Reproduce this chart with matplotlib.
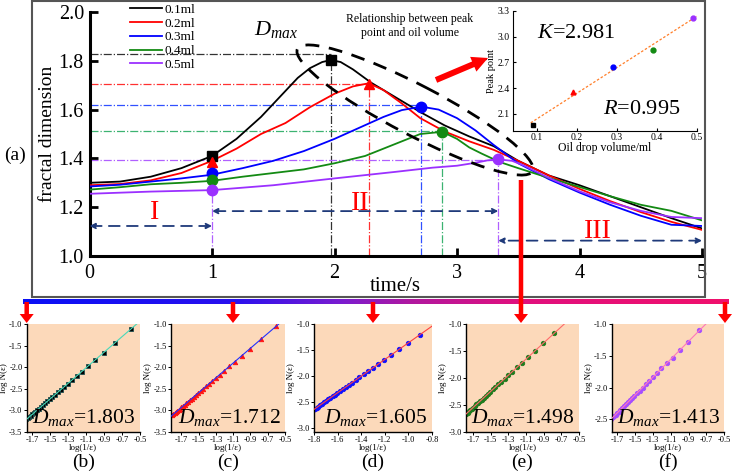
import numpy as np
import matplotlib
matplotlib.use('Agg')
import matplotlib.pyplot as plt
from matplotlib.patches import Ellipse, FancyArrow, Rectangle
from matplotlib.colors import LinearSegmentedColormap

plt.rcParams['font.family'] = ['Liberation Serif', 'DejaVu Serif']
plt.rcParams['mathtext.fontset'] = 'custom'
plt.rcParams['mathtext.rm'] = 'Liberation Serif'
plt.rcParams['mathtext.it'] = 'Liberation Serif:italic'

# ---------------- data: main panel (a) ----------------
labels = ['0.1ml', '0.2ml', '0.3ml', '0.4ml', '0.5ml']
colors = ['black', '#FF0000', '#0000FF', '#138A13', '#9B30FF']
ref_colors = ['#333333', '#FF3030', '#3050FF', '#3CB371', '#B060FF']
markers = ['s', '^', 'o', 'o', 'o']

t_01 = [0, 0.25, 0.5, 0.75, 1.0, 1.2, 1.4, 1.55, 1.7, 1.8, 1.9, 1.97, 2.05, 2.15, 2.3, 2.5, 2.7, 2.9, 3.1, 3.3, 3.5, 3.75, 4.0, 4.25, 4.5, 4.75, 5.0]
d_01 = [1.30, 1.305, 1.325, 1.36, 1.41, 1.48, 1.57, 1.65, 1.73, 1.77, 1.795, 1.803, 1.795, 1.765, 1.71, 1.65, 1.59, 1.535, 1.49, 1.45, 1.39, 1.33, 1.29, 1.245, 1.20, 1.155, 1.113]

t_02 = [0, 0.25, 0.5, 0.75, 1.0, 1.2, 1.4, 1.6, 1.8, 2.0, 2.15, 2.28, 2.4, 2.55, 2.7, 2.9, 3.1, 3.3, 3.5, 3.75, 4.0, 4.25, 4.5, 4.75, 5.0]
d_02 = [1.29, 1.295, 1.31, 1.34, 1.39, 1.44, 1.50, 1.545, 1.61, 1.665, 1.695, 1.708, 1.68, 1.625, 1.565, 1.51, 1.47, 1.435, 1.39, 1.33, 1.275, 1.225, 1.18, 1.14, 1.107]

t_03 = [0, 0.25, 0.5, 0.75, 1.0, 1.25, 1.5, 1.75, 2.0, 2.2, 2.4, 2.55, 2.71, 2.85, 3.0, 3.15, 3.3, 3.5, 3.75, 4.0, 4.25, 4.5, 4.75, 5.0]
d_03 = [1.285, 1.292, 1.305, 1.318, 1.333, 1.36, 1.39, 1.43, 1.48, 1.525, 1.57, 1.598, 1.612, 1.60, 1.565, 1.515, 1.455, 1.38, 1.315, 1.26, 1.21, 1.165, 1.128, 1.123]

t_04 = [0, 0.25, 0.5, 0.75, 1.0, 1.25, 1.5, 1.75, 2.0, 2.25, 2.5, 2.7, 2.88, 3.0, 3.1, 3.2, 3.35, 3.5, 3.75, 4.0, 4.25, 4.5, 4.75, 5.0]
d_04 = [1.272, 1.282, 1.294, 1.30, 1.308, 1.325, 1.34, 1.355, 1.38, 1.41, 1.46, 1.50, 1.509, 1.48, 1.445, 1.42, 1.385, 1.36, 1.32, 1.283, 1.245, 1.21, 1.185, 1.146]

t_05 = [0, 0.5, 1.0, 1.5, 2.0, 2.5, 2.8, 3.0, 3.15, 3.25, 3.337, 3.45, 3.55, 3.75, 4.0, 4.25, 4.5, 4.75, 5.0]
d_05 = [1.255, 1.264, 1.27, 1.29, 1.318, 1.345, 1.362, 1.37, 1.382, 1.392, 1.396, 1.39, 1.37, 1.32, 1.265, 1.22, 1.185, 1.16, 1.155]

times = [t_01, t_02, t_03, t_04, t_05]
dims = [d_01, d_02, d_03, d_04, d_05]

start_t = 1.0
start_d = [1.41, 1.386, 1.341, 1.311, 1.27]
peak_t = [1.97, 2.28, 2.71, 2.88, 3.337]
peak_d = [1.803, 1.705, 1.612, 1.509, 1.396]
ref_d = [1.827, 1.705, 1.62, 1.513, 1.393]

# stage boundaries
stage_bounds = [0.0, 1.0, 3.337, 5.0]

# ---------------- data: inset ----------------
oil_volume = [0.09, 0.19, 0.29, 0.39, 0.49]
peak_point = [1.975, 2.353, 2.648, 2.85, 3.222]

# ---------------- data: panels (b)-(f) ----------------
b_x = [-0.602, -0.778, -0.903, -1.000, -1.079, -1.146, -1.204, -1.255, -1.301, -1.342, -1.380, -1.415, -1.447, -1.477,
       -1.505, -1.531, -1.556, -1.580, -1.602, -1.623, -1.643, -1.663, -1.681, -1.699, -1.716, -1.732, -1.748, -1.763]
b_y = [-1.12, -1.43, -1.66, -1.83, -1.98, -2.10, -2.20, -2.29, -2.38, -2.45, -2.52, -2.58, -2.64, -2.69,
       -2.74, -2.79, -2.84, -2.88, -2.92, -2.96, -2.99, -3.03, -3.06, -3.09, -3.12, -3.15, -3.18, -3.21]
c_x = [-0.602, -0.778, -0.903, -1.000, -1.079, -1.146, -1.204, -1.255, -1.301, -1.342, -1.380, -1.415, -1.447, -1.477,
       -1.505, -1.531, -1.556, -1.580, -1.602, -1.623, -1.643, -1.663, -1.681, -1.699, -1.716, -1.732, -1.748, -1.763,
       -1.778, -1.792, -1.806]
c_y = [-1.05, -1.35, -1.57, -1.73, -1.87, -1.98, -2.08, -2.17, -2.25, -2.32, -2.38, -2.44, -2.50, -2.55,
       -2.60, -2.64, -2.68, -2.73, -2.76, -2.80, -2.83, -2.87, -2.90, -2.93, -2.96, -2.99, -3.01, -3.04,
       -3.06, -3.09, -3.11]
d_x = [-0.903, -1.000, -1.079, -1.146, -1.204, -1.255, -1.301, -1.342, -1.380, -1.415, -1.447, -1.477, -1.505, -1.531,
       -1.556, -1.580, -1.602, -1.623, -1.643, -1.663, -1.681, -1.699, -1.716, -1.732, -1.748, -1.763, -1.778, -1.792, -1.806]
d_y = [-1.21, -1.36, -1.49, -1.60, -1.69, -1.77, -1.84, -1.91, -1.97, -2.03, -2.08, -2.13, -2.17, -2.21,
       -2.25, -2.29, -2.33, -2.36, -2.39, -2.43, -2.45, -2.48, -2.51, -2.54, -2.56, -2.59, -2.61, -2.63, -2.66]
e_x = [-0.778, -0.903, -1.000, -1.079, -1.146, -1.204, -1.255, -1.301, -1.342, -1.380, -1.415, -1.447, -1.477, -1.505,
       -1.531, -1.556, -1.580, -1.602, -1.623, -1.643, -1.663, -1.681, -1.699, -1.716, -1.732, -1.748, -1.763, -1.778]
e_y = [-1.17, -1.35, -1.50, -1.62, -1.72, -1.80, -1.88, -1.95, -2.01, -2.07, -2.12, -2.17, -2.21, -2.25,
       -2.29, -2.33, -2.37, -2.40, -2.43, -2.46, -2.49, -2.52, -2.55, -2.57, -2.60, -2.62, -2.64, -2.66]
f_x = e_x
f_y = [-1.10, -1.28, -1.41, -1.53, -1.62, -1.70, -1.77, -1.84, -1.90, -1.95, -2.00, -2.05, -2.09, -2.13,
       -2.16, -2.20, -2.23, -2.26, -2.29, -2.32, -2.35, -2.38, -2.40, -2.43, -2.45, -2.47, -2.49, -2.51]
dmax_values = ['1.803', '1.712', '1.605', '1.498', '1.413']
panel_names = ['(b)', '(c)', '(d)', '(e)', '(f)']

W, H = 732, 473
fig = plt.figure(figsize=(W / 100, H / 100), dpi=100)


def px_rect(l, t, r, b):
    return [l / W, (H - b) / H, (r - l) / W, (b - t) / H]


# ================= main axes =================
ax = fig.add_axes(px_rect(89.5, 12, 702, 256))
ax.set_xlim(0, 5)
ax.set_ylim(1.0, 2.0)

for i in range(5):
    ax.plot([0, peak_t[i]], [ref_d[i], ref_d[i]], ls='-.', lw=0.9, color=ref_colors[i], zorder=1)
    ax.plot([peak_t[i], peak_t[i]], [1.0, peak_d[i]], ls='-.', lw=0.9, color=ref_colors[i], zorder=1)
ax.plot([start_t, start_t], [1.0, start_d[4]], ls='-.', lw=0.9, color=ref_colors[4], zorder=1)

lines = []
for i in range(5):
    ln, = ax.plot(times[i], dims[i], color=colors[i], lw=1.3, label=labels[i], zorder=3)
    lines.append(ln)
    ax.plot([start_t], [start_d[i]], marker=markers[i], ms=7.5, color=colors[i], ls='none', zorder=4)
    ax.plot([peak_t[i]], [peak_d[i]], marker=markers[i], ms=7.5, color=colors[i], ls='none', zorder=4)

leg = ax.legend(handles=lines, loc='upper left', bbox_to_anchor=(0.066, 1.035), frameon=False,
                fontsize=9.5, handlelength=2.45, handletextpad=0.15, labelspacing=0.12,
                borderpad=0, borderaxespad=0)

navy = '#1F3A7A'
arrow_y = [1.123, 1.184, 1.063]
for k in range(3):
    ax.annotate('', xy=(stage_bounds[k], arrow_y[k]), xytext=(stage_bounds[k + 1], arrow_y[k]),
                arrowprops=dict(arrowstyle='<|-|>', color=navy, lw=1.3, ls=(0, (6, 4)),
                                mutation_scale=8, shrinkA=0, shrinkB=0))
ax.text(0.535, 1.178, 'I', color='red', fontsize=20, ha='center', va='center')
ax.text(2.21, 1.217, 'II', color='red', fontsize=20, ha='center', va='center')
ax.text(4.15, 1.10, 'III', color='red', fontsize=20, ha='center', va='center')

for s in ['top', 'right']:
    ax.spines[s].set_visible(False)
for s in ['left', 'bottom']:
    ax.spines[s].set_linewidth(2.2)
ax.set_xticks(range(6))
ax.set_yticks(np.arange(1.0, 2.01, 0.2))
ax.set_yticklabels(['%.1f' % v for v in np.arange(1.0, 2.01, 0.2)])
ax.tick_params(direction='in', length=6, width=2, labelsize=14.5, pad=4)
ax.tick_params(axis='x', pad=6)
ax.set_xlabel('time/s', fontsize=15)
ax.xaxis.set_label_coords(0.5, -0.127)
ax.xaxis.label.set_va('center')
ax.set_ylabel('fractal dimension', fontsize=14)
ax.yaxis.set_label_coords(-0.069, 0.5)
ax.yaxis.label.set_va('center')

# ================= inset =================
ins = fig.add_axes(px_rect(512.7, 11, 696.7, 130.7))
ins.set_xlim(0.04, 0.5)
ins.set_ylim(1.905, 3.3)
fit = np.polyfit(oil_volume, peak_point, 1)
fx = np.array([0.085, 0.5])
ins.plot(fx, np.polyval(fit, fx), ls=(0, (2, 1.5)), color='#FF7F2A', lw=0.9, zorder=2)
for i in range(5):
    ins.plot([oil_volume[i]], [peak_point[i]], marker=markers[i], ms=3.5, color=colors[i], ls='none', zorder=3)
for s in ['top', 'right']:
    ins.spines[s].set_visible(False)
for s in ['left', 'bottom']:
    ins.spines[s].set_linewidth(0.8)
ins.set_xticks([0.1, 0.2, 0.3, 0.4, 0.5])
ins.set_yticks([2.1, 2.4, 2.7, 3.0, 3.3])
ins.tick_params(direction='in', length=2.5, width=0.8, labelsize=7, pad=2)
ins.set_xlabel('Oil drop volume/ml', fontsize=8.5, labelpad=0)
ins.set_ylabel('Peak point', fontsize=7.5, labelpad=1)

# ================= panels (b)-(f) =================
panel_rects = [(26.7, 324, 140, 432), (171, 324, 285, 432), (314, 324, 432, 432),
               (466, 324, 579, 432), (611.7, 324, 724.3, 432)]
panel_x = [b_x, c_x, d_x, e_x, f_x]
panel_y = [b_y, c_y, d_y, e_y, f_y]
panel_xlim = [(-1.76, -0.5), (-1.82, -0.5), (-1.8, -0.8), (-1.78, -0.5), (-1.76, -0.5)]
panel_ylim = [(-3.5, -1.0), (-3.5, -1.0), (-3.08, -1.0), (-3.0, -1.0), (-2.7, -1.0)]
panel_xticks = [np.arange(-1.7, -0.49, 0.2)] * 2 + [np.arange(-1.8, -0.79, 0.2)] + [np.arange(-1.7, -0.49, 0.2)] * 2
panel_yticks = [np.arange(-3.5, -0.99, 0.5), np.arange(-3.5, -0.99, 0.5), np.arange(-3.0, -0.99, 0.5),
                np.arange(-3.0, -0.99, 0.5), np.arange(-2.5, -0.99, 0.5)]
pt_marker = ['s', '^', 'o', 'o', 'o']
pt_color = ['black', '#FF1010', '#1010FF', '#1E7B1E', '#A64DFF']
pt_edge = ['#1F4F4F', '#FF1010', '#1010FF', '#1E7B1E', '#A64DFF']
fit_color = ['#48D8B8', '#2030FF', '#FF4040', '#FF6A6A', '#FF77BB']
peach = '#FCD9BA'

for k in range(5):
    l, t, r, b = panel_rects[k]
    pa = fig.add_axes(px_rect(l, t, r, b))
    pa.set_facecolor(peach)
    pa.set_xlim(*panel_xlim[k])
    pa.set_ylim(*panel_ylim[k])
    pa.plot(panel_x[k], panel_y[k], marker=pt_marker[k], ms=3.2, mfc=pt_color[k], mec=pt_edge[k],
            mew=0.6, ls='none', zorder=2)
    pf = np.polyfit(panel_x[k], panel_y[k], 1)
    lx = np.array(panel_xlim[k])
    pa.plot(lx, np.polyval(pf, lx), color=fit_color[k], lw=0.8, zorder=3)
    pa.set_xticks(panel_xticks[k])
    pa.set_xticklabels(['%.1f' % v for v in panel_xticks[k]])
    pa.set_yticks(panel_yticks[k])
    pa.set_yticklabels(['%.1f' % v for v in panel_yticks[k]])
    pa.tick_params(labelsize=6, length=2, width=0.7, pad=1)
    for s in ['top', 'right']:
        pa.spines[s].set_visible(False)
    for s in ['left', 'bottom']:
        pa.spines[s].set_linewidth(1.0)
    pa.set_xlabel('log(1/ε)', fontsize=6.5, labelpad=0)
    pa.set_ylabel('log N(ε)', fontsize=6.5, labelpad=1)
    pa.text(0.96, 0.08, r'$D_{max}$=' + dmax_values[k], transform=pa.transAxes,
            ha='right', va='baseline', fontsize=15.5)

# ================= overlay decorations (pixel coordinates) =================
ov = fig.add_axes([0, 0, 1, 1], zorder=10)
ov.patch.set_alpha(0)
ov.axis('off')

bar_cmap = LinearSegmentedColormap.from_list('bar', [(0, '#0A10F5'), (0.3, '#2A10EE'), (0.45, '#7A1CD0'),
                                                     (0.55, '#B0189F'), (0.7, '#E0107E'), (1, '#F0106C')])
ov.imshow(np.linspace(0, 1, 256)[None, :], cmap=bar_cmap, extent=(23, 729, 304.5, 299.5), aspect='auto')
ov.set_xlim(0, W)
ov.set_ylim(H, 0)

ov.add_patch(Rectangle((32, 0.8), 673, 296, fill=False, ec='#555555', lw=1.5))

for xa in [26.7, 233, 373, 725]:
    ov.add_patch(FancyArrow(xa, 302, 0, 21, width=4.5, head_width=14, head_length=9,
                            length_includes_head=True, fc='red', ec='none'))
ov.add_patch(FancyArrow(521, 180, 0, 143, width=4.5, head_width=14, head_length=9,
                        length_includes_head=True, fc='red', ec='none'))
ov.add_patch(FancyArrow(436, 80, 52, -22, width=6, head_width=16, head_length=16,
                        length_includes_head=True, fc='red', ec='none'))
ov.add_patch(Ellipse((415, 110), 265, 50, angle=27.5, fill=False, ec='black', lw=2, ls=(0, (5, 3.5))))

ov.text(276, 30, r'$D_{max}$', fontsize=16, ha='center', va='center')
ov.text(410, 26, 'Relationship between peak\npoint and oil volume', fontsize=8.5,
        ha='center', va='center', linespacing=1.3)
ov.text(576, 33, r'$K$=2.981', fontsize=16, ha='center', va='center')
ov.text(642, 109, r'$R$=0.995', fontsize=16, ha='center', va='center')
ov.text(15, 155, '(a)', fontsize=14, ha='center', va='center')
for k in range(5):
    l, t, r, b = panel_rects[k]
    ov.text((l + r) / 2, 462, panel_names[k], fontsize=14, ha='center', va='center')

fig.savefig('out.png', dpi=100)
